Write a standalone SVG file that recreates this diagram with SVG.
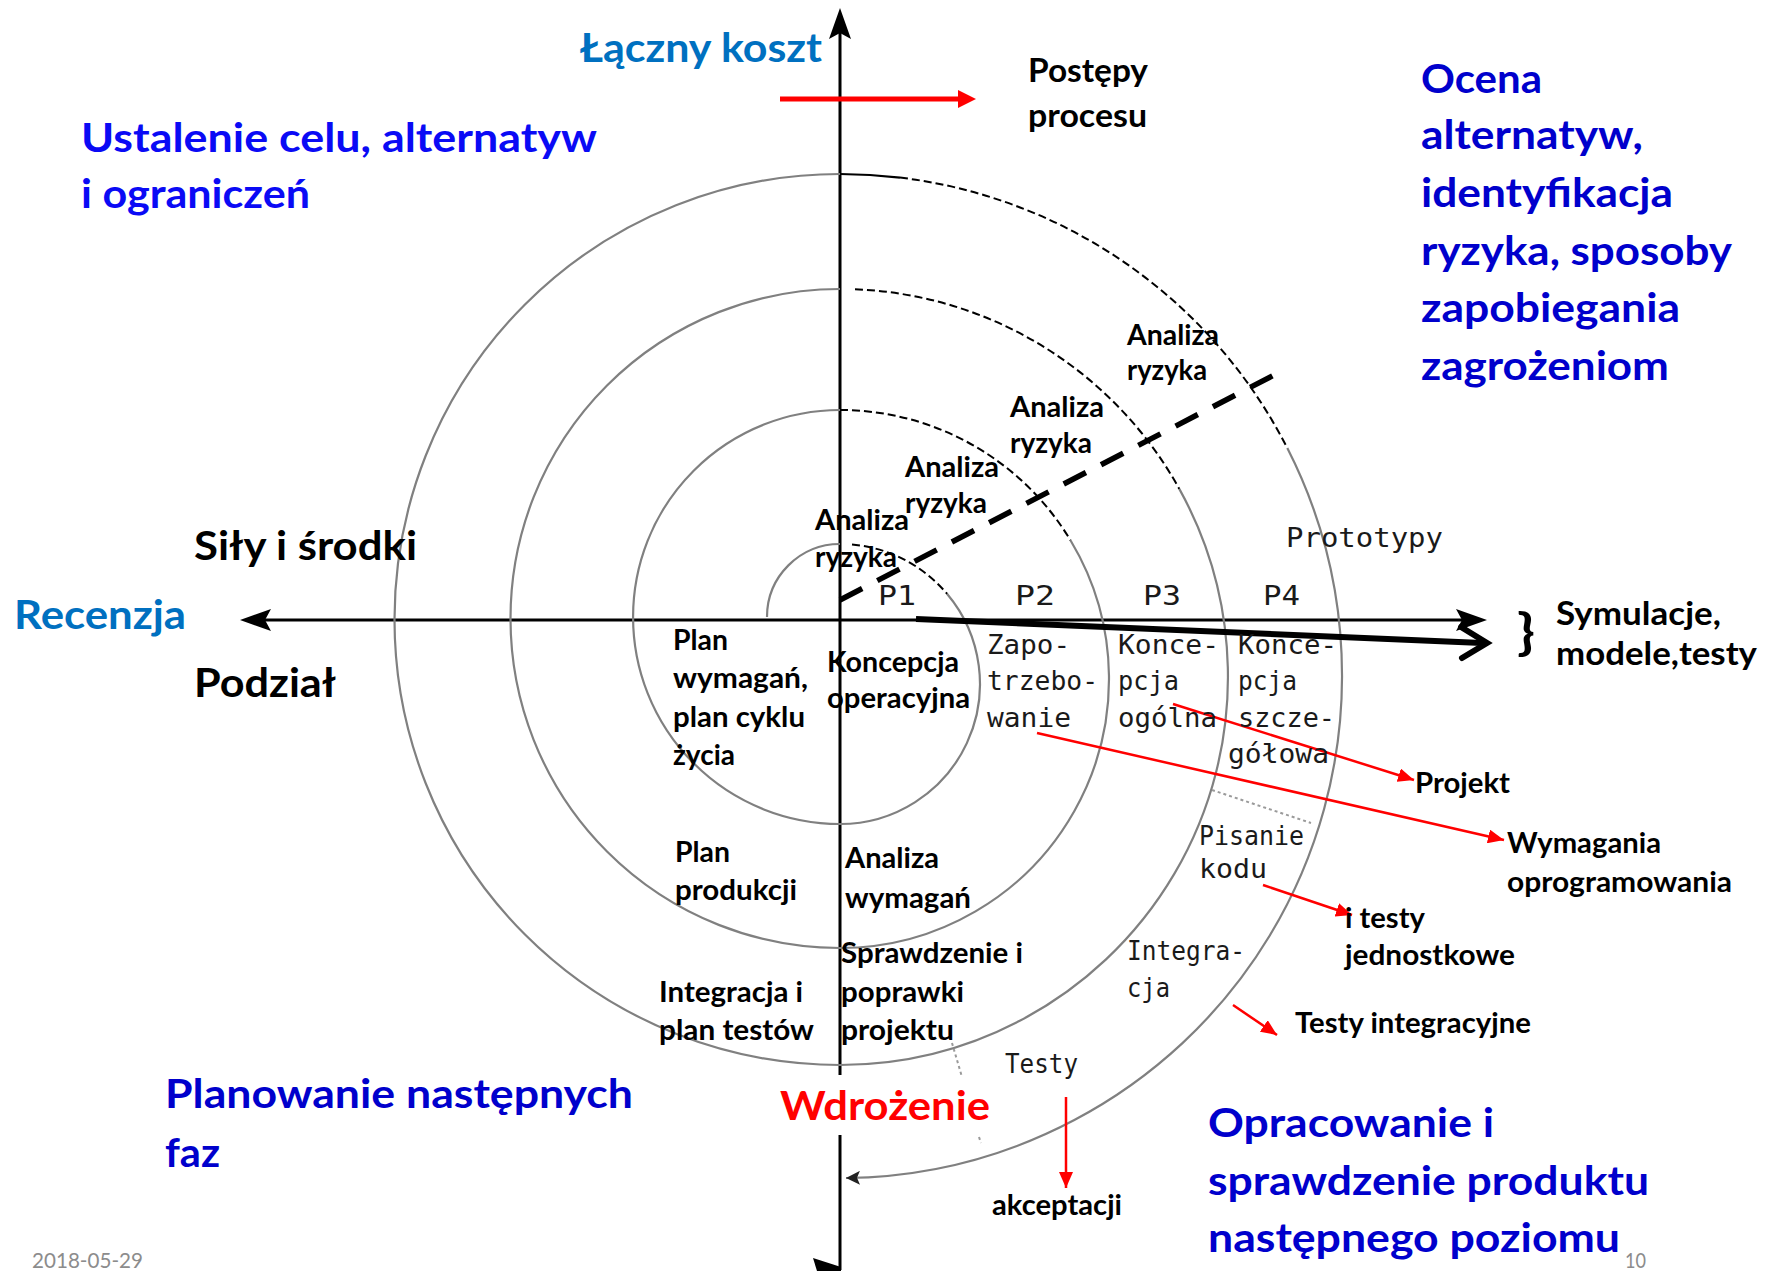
<svg xmlns="http://www.w3.org/2000/svg" width="1768" height="1271" viewBox="0 0 1768 1271">
<style>
text { font-family: Lato, "Open Sans", "DejaVu Sans", sans-serif; font-weight: bold; }
.h { font-size: 41px; }
.m32 { font-size: 32px; fill: #000; }
.l { font-size: 28px; fill: #000; }
.mono { font-family: "DejaVu Sans Mono", "Liberation Mono", monospace; font-weight: normal; font-size: 26px; fill: #1a1a1a; }
.lb { fill: #0070C0; }
.bb { fill: #0A0AF5; }
.db { fill: #0000CC; }
.gray { stroke: #808080; stroke-width: 2.2; fill: none; }
.dash { stroke: #000; stroke-width: 2; fill: none; stroke-dasharray: 8 4; }
.axis { stroke: #000; stroke-width: 3; fill: none; }
.red { stroke: #FF0000; stroke-width: 2.5; fill: none; marker-end: url(#ra); }
.sep { stroke: #9a9a9a; stroke-width: 2; fill: none; stroke-dasharray: 3 3; }
.foot { font-family: Lato, "Open Sans", sans-serif; font-weight: normal; font-size: 21px; fill: #8c8c8c; }
</style>
<defs>
<marker id="ra" markerUnits="userSpaceOnUse" markerWidth="17" markerHeight="14" refX="16" refY="7" orient="auto">
<path d="M0,0 L16,7 L0,14 z" fill="#FF0000"/>
</marker>
<marker id="sa" markerUnits="userSpaceOnUse" markerWidth="15" markerHeight="14" refX="14" refY="7" orient="auto">
<path d="M0,0 L14,7 L0,14 L3,7 z" fill="#222"/>
</marker>
</defs>
<rect width="1768" height="1271" fill="#fff"/>

<g id="axes">
<line class="axis" x1="840" y1="30" x2="840" y2="1075"/>
<line class="axis" x1="840" y1="1135" x2="840" y2="1270"/>
<polygon points="840,8 851,39 840,33 829,39" fill="#000"/>
<polygon points="813,1258 841,1267 841,1271 817,1271" fill="#000"/>
<line class="axis" x1="262" y1="620" x2="1468" y2="620"/>
<polygon points="240,620 271,609 265,620 271,631" fill="#000"/>
<polygon points="1487,620 1456,609 1462,620 1456,631" fill="#000"/>
</g>

<g id="spiral">
<path class="gray" d="M 767,617 A 73 73 0 0 1 840,544"/>
<path class="dash" d="M 852,544.5 A 140 140 0 0 1 947.2,594"/>
<path class="gray" d="M 947.2,594 A 140 140 0 0 1 840,824"/>
<path class="gray" d="M 840,824 A 207 207 0 0 1 840,410"/>
<path class="dash" d="M 840,410 A 269 269 0 0 1 1070.6,540.5"/>
<path class="gray" d="M 1070.6,540.5 A 269 269 0 0 1 840,948"/>
<path class="gray" d="M 840,948 A 329.5 329.5 0 0 1 840,289"/>
<path class="dash" d="M 855,289.3 A 388 388 0 0 1 1179.3,488.9"/>
<path class="gray" d="M 1179.3,488.9 A 388 388 0 0 1 840,1065"/>
<path class="gray" d="M 840,1065 A 445.5 445.5 0 0 1 840,174"/>
<path d="M 840,174 A 502 502 0 0 1 900,177.6" stroke="#000" stroke-width="2.2" fill="none"/>
<path class="dash" d="M 900,177.6 A 502 502 0 0 1 1287.3,448.1"/>
<path class="gray" d="M 1287.3,448.1 A 502 502 0 0 1 846,1178" marker-end="url(#sa)"/>
<line x1="840" y1="600" x2="1278" y2="373" stroke="#000" stroke-width="5.5" stroke-dasharray="25 17"/>
<line class="sep" x1="1212" y1="790" x2="1311" y2="823"/>
<line class="sep" x1="952" y1="1043" x2="962" y2="1077"/>
<line class="sep" x1="979" y1="1137" x2="981" y2="1143"/>
</g>

<g id="connectors">
<line x1="780" y1="99" x2="960" y2="99" stroke="#FF0000" stroke-width="5"/>
<polygon points="958,90 976,99 958,108" fill="#FF0000"/>
<line x1="916" y1="619" x2="1482" y2="643" stroke="#000" stroke-width="6"/>
<path d="M 1461,627 L 1487,643 L 1462,658" stroke="#000" stroke-width="6" fill="none" stroke-linecap="round"/>
<line class="red" x1="1173" y1="704" x2="1414" y2="780"/>
<line class="red" x1="1037" y1="733" x2="1504" y2="840"/>
<line class="red" x1="1263" y1="885" x2="1352" y2="915"/>
<line class="red" x1="1233" y1="1005" x2="1277" y2="1035"/>
<line class="red" x1="1066" y1="1097" x2="1066" y2="1188"/>
</g>

<g id="headings">
<text class="h lb" x="580" y="62" textLength="242" lengthAdjust="spacingAndGlyphs">Łączny koszt</text>
<text class="h lb" x="14" y="629" textLength="172" lengthAdjust="spacingAndGlyphs">Recenzja</text>
<text class="h" x="194" y="560" textLength="223" lengthAdjust="spacingAndGlyphs">Siły i środki</text>
<text class="h" x="194" y="697" textLength="142" lengthAdjust="spacingAndGlyphs">Podział</text>
<text class="h" x="780" y="1120" fill="#FF0000" textLength="210" lengthAdjust="spacingAndGlyphs">Wdrożenie</text>
</g>
<g id="quad-tl">
<text class="h bb" x="81" y="152" textLength="516" lengthAdjust="spacingAndGlyphs">Ustalenie celu, alternatyw</text>
<text class="h bb" x="81" y="208" textLength="229" lengthAdjust="spacingAndGlyphs">i ograniczeń</text>
</g>
<g id="quad-tr">
<text class="h db" x="1421" y="93" textLength="121" lengthAdjust="spacingAndGlyphs">Ocena</text>
<text class="h db" x="1421" y="149" textLength="222" lengthAdjust="spacingAndGlyphs">alternatyw,</text>
<text class="h db" x="1421" y="207" textLength="252" lengthAdjust="spacingAndGlyphs">identyfikacja</text>
<text class="h db" x="1421" y="265" textLength="311" lengthAdjust="spacingAndGlyphs">ryzyka, sposoby</text>
<text class="h db" x="1421" y="322" textLength="259" lengthAdjust="spacingAndGlyphs">zapobiegania</text>
<text class="h db" x="1421" y="380" textLength="248" lengthAdjust="spacingAndGlyphs">zagrożeniom</text>
</g>
<g id="quad-bl">
<text class="h db" x="165" y="1108" textLength="468" lengthAdjust="spacingAndGlyphs">Planowanie następnych</text>
<text class="h db" x="165" y="1167" textLength="55" lengthAdjust="spacingAndGlyphs">faz</text>
</g>
<g id="quad-br">
<text class="h db" x="1208" y="1137" textLength="286" lengthAdjust="spacingAndGlyphs">Opracowanie i</text>
<text class="h db" x="1208" y="1195" textLength="441" lengthAdjust="spacingAndGlyphs">sprawdzenie produktu</text>
<text class="h db" x="1208" y="1252" textLength="412" lengthAdjust="spacingAndGlyphs">następnego poziomu</text>
</g>

<g id="postepy">
<text class="m32" x="1028" y="82" textLength="120" lengthAdjust="spacingAndGlyphs">Postępy</text>
<text class="m32" x="1028" y="127" textLength="119" lengthAdjust="spacingAndGlyphs">procesu</text>
</g>
<g id="symulacje">
<text x="1517" y="649" font-size="50" textLength="18" lengthAdjust="spacingAndGlyphs">}</text>
<text class="m32" x="1556" y="625" textLength="165" lengthAdjust="spacingAndGlyphs">Symulacje,</text>
<text class="m32" x="1556" y="665" textLength="201" lengthAdjust="spacingAndGlyphs">modele,testy</text>
</g>

<g id="analiza-ryzyka">
<text class="l" x="1127" y="345" textLength="92" lengthAdjust="spacingAndGlyphs">Analiza</text>
<text class="l" x="1127" y="380" textLength="80" lengthAdjust="spacingAndGlyphs">ryzyka</text>
<text class="l" x="1010" y="417" textLength="94" lengthAdjust="spacingAndGlyphs">Analiza</text>
<text class="l" x="1010" y="453" textLength="82" lengthAdjust="spacingAndGlyphs">ryzyka</text>
<text class="l" x="905" y="477" textLength="94" lengthAdjust="spacingAndGlyphs">Analiza</text>
<text class="l" x="905" y="513" textLength="82" lengthAdjust="spacingAndGlyphs">ryzyka</text>
<text class="l" x="815" y="530" textLength="94" lengthAdjust="spacingAndGlyphs">Analiza</text>
<text class="l" x="815" y="567" textLength="82" lengthAdjust="spacingAndGlyphs">ryzyka</text>
</g>

<g id="plan-wymagan">
<text class="l" x="673" y="650" textLength="55" lengthAdjust="spacingAndGlyphs">Plan</text>
<text class="l" x="673" y="688" textLength="135" lengthAdjust="spacingAndGlyphs">wymagań,</text>
<text class="l" x="673" y="727" textLength="132" lengthAdjust="spacingAndGlyphs">plan cyklu</text>
<text class="l" x="673" y="765" textLength="62" lengthAdjust="spacingAndGlyphs">życia</text>
</g>
<g id="koncepcja-operacyjna">
<text class="l" x="827" y="672" textLength="132" lengthAdjust="spacingAndGlyphs">Koncepcja</text>
<text class="l" x="827" y="708" textLength="143" lengthAdjust="spacingAndGlyphs">operacyjna</text>
</g>
<g id="plan-produkcji">
<text class="l" x="675" y="862" textLength="55" lengthAdjust="spacingAndGlyphs">Plan</text>
<text class="l" x="675" y="900" textLength="122" lengthAdjust="spacingAndGlyphs">produkcji</text>
</g>
<g id="analiza-wymagan">
<text class="l" x="845" y="868" textLength="94" lengthAdjust="spacingAndGlyphs">Analiza</text>
<text class="l" x="845" y="908" textLength="126" lengthAdjust="spacingAndGlyphs">wymagań</text>
</g>
<g id="sprawdzenie">
<text class="l" x="841" y="963" textLength="182" lengthAdjust="spacingAndGlyphs">Sprawdzenie i</text>
<text class="l" x="841" y="1002" textLength="123" lengthAdjust="spacingAndGlyphs">poprawki</text>
<text class="l" x="841" y="1040" textLength="113" lengthAdjust="spacingAndGlyphs">projektu</text>
</g>
<g id="integracja-plan">
<text class="l" x="659" y="1002" textLength="144" lengthAdjust="spacingAndGlyphs">Integracja i</text>
<text class="l" x="659" y="1040" textLength="155" lengthAdjust="spacingAndGlyphs">plan testów</text>
</g>
<g id="projekt"><text class="l" x="1415" y="793" textLength="95" lengthAdjust="spacingAndGlyphs">Projekt</text></g>
<g id="wymagania-opr">
<text class="l" x="1507" y="853" textLength="154" lengthAdjust="spacingAndGlyphs">Wymagania</text>
<text class="l" x="1507" y="892" textLength="225" lengthAdjust="spacingAndGlyphs">oprogramowania</text>
</g>
<g id="testy-jedn">
<text class="l" x="1345" y="928" textLength="80" lengthAdjust="spacingAndGlyphs">i testy</text>
<text class="l" x="1345" y="965" textLength="170" lengthAdjust="spacingAndGlyphs">jednostkowe</text>
</g>
<g id="testy-integr"><text class="l" x="1295" y="1033" textLength="236" lengthAdjust="spacingAndGlyphs">Testy integracyjne</text></g>
<g id="akceptacji"><text class="l" x="992" y="1215" textLength="130" lengthAdjust="spacingAndGlyphs">akceptacji</text></g>

<g id="phases">
<text class="mono" x="878" y="605" textLength="38" lengthAdjust="spacingAndGlyphs">P1</text>
<text class="mono" x="1015" y="605" textLength="40" lengthAdjust="spacingAndGlyphs">P2</text>
<text class="mono" x="1143" y="605" textLength="38" lengthAdjust="spacingAndGlyphs">P3</text>
<text class="mono" x="1263" y="605" textLength="37" lengthAdjust="spacingAndGlyphs">P4</text>
<text class="mono" x="1286" y="547" textLength="157" lengthAdjust="spacingAndGlyphs">Prototypy</text>
</g>
<g id="zapotrzebowanie">
<text class="mono" x="987" y="654" textLength="83" lengthAdjust="spacingAndGlyphs">Zapo-</text>
<text class="mono" x="987" y="690" textLength="111" lengthAdjust="spacingAndGlyphs">trzebo-</text>
<text class="mono" x="987" y="727" textLength="84" lengthAdjust="spacingAndGlyphs">wanie</text>
</g>
<g id="koncepcja-ogolna">
<text class="mono" x="1118" y="654" textLength="101" lengthAdjust="spacingAndGlyphs">Konce-</text>
<text class="mono" x="1118" y="690" textLength="61" lengthAdjust="spacingAndGlyphs">pcja</text>
<text class="mono" x="1118" y="727" textLength="99" lengthAdjust="spacingAndGlyphs">ogólna</text>
</g>
<g id="koncepcja-szczegolowa">
<text class="mono" x="1238" y="654" textLength="99" lengthAdjust="spacingAndGlyphs">Konce-</text>
<text class="mono" x="1238" y="690" textLength="59" lengthAdjust="spacingAndGlyphs">pcja</text>
<text class="mono" x="1238" y="727" textLength="97" lengthAdjust="spacingAndGlyphs">szcze-</text>
<text class="mono" x="1228" y="763" textLength="101" lengthAdjust="spacingAndGlyphs">gółowa</text>
</g>
<g id="pisanie-kodu">
<text class="mono" x="1199" y="845" textLength="105" lengthAdjust="spacingAndGlyphs">Pisanie</text>
<text class="mono" x="1199" y="878" textLength="68" lengthAdjust="spacingAndGlyphs">kodu</text>
</g>
<g id="integracja">
<text class="mono" x="1127" y="960" textLength="118" lengthAdjust="spacingAndGlyphs">Integra-</text>
<text class="mono" x="1127" y="997" textLength="43" lengthAdjust="spacingAndGlyphs">cja</text>
</g>
<g id="testy"><text class="mono" x="1005" y="1073" textLength="73" lengthAdjust="spacingAndGlyphs">Testy</text></g>

<g id="footer">
<text class="foot" x="32" y="1268" textLength="111" lengthAdjust="spacingAndGlyphs">2018-05-29</text>
<text class="foot" x="1625" y="1268" textLength="21" lengthAdjust="spacingAndGlyphs">10</text>
</g>
</svg>
